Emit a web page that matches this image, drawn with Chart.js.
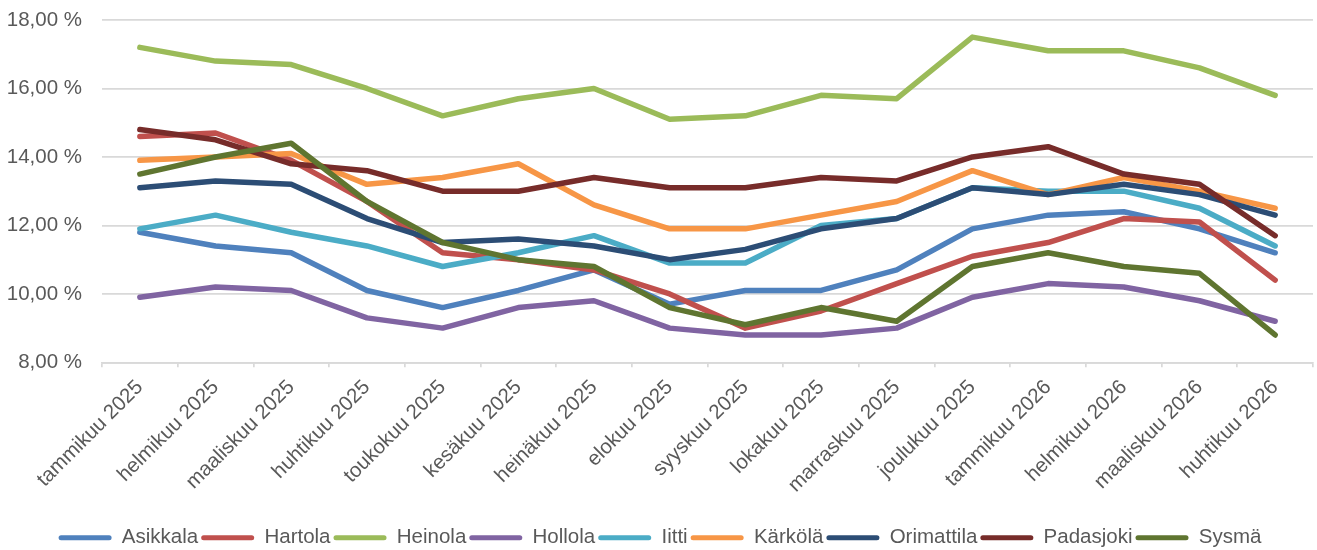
<!DOCTYPE html>
<html>
<head>
<meta charset="utf-8">
<script src="https://cdn.jsdelivr.net/npm/chart.js@4/dist/chart.umd.min.js"></script>
<style>
  html, body { margin: 0; padding: 0; background: #fff; }
  #wrap { width: 1317px; height: 550px; }
</style>
</head>
<body>
<div id="wrap"><canvas id="grafica"></canvas></div>
<script>
// kuukaudet (x-akseli)
const kuukaudet = ['tammikuu 2025', 'helmikuu 2025', 'maaliskuu 2025', 'huhtikuu 2025',
  'toukokuu 2025', 'kesäkuu 2025', 'heinäkuu 2025', 'elokuu 2025', 'syyskuu 2025',
  'lokakuu 2025', 'marraskuu 2025', 'joulukuu 2025', 'tammikuu 2026', 'helmikuu 2026',
  'maaliskuu 2026', 'huhtikuu 2026'];

// arvot prosentteina
const asikkala   = [11.8, 11.4, 11.2, 10.1, 9.6, 10.1, 10.7, 9.7, 10.1, 10.1, 10.7, 11.9, 12.3, 12.4, 11.9, 11.2];
const hartola    = [14.6, 14.7, 13.9, 12.7, 11.2, 11.0, 10.7, 10.0, 9.0, 9.5, 10.3, 11.1, 11.5, 12.2, 12.1, 10.4];
const heinola    = [17.2, 16.8, 16.7, 16.0, 15.2, 15.7, 16.0, 15.1, 15.2, 15.8, 15.7, 17.5, 17.1, 17.1, 16.6, 15.8];
const hollola    = [9.9, 10.2, 10.1, 9.3, 9.0, 9.6, 9.8, 9.0, 8.8, 8.8, 9.0, 9.9, 10.3, 10.2, 9.8, 9.2];
const iitti      = [11.9, 12.3, 11.8, 11.4, 10.8, 11.2, 11.7, 10.9, 10.9, 12.0, 12.2, 13.1, 13.0, 13.0, 12.5, 11.4];
const karkola    = [13.9, 14.0, 14.1, 13.2, 13.4, 13.8, 12.6, 11.9, 11.9, 12.3, 12.7, 13.6, 12.9, 13.4, 13.0, 12.5];
const orimattila = [13.1, 13.3, 13.2, 12.2, 11.5, 11.6, 11.4, 11.0, 11.3, 11.9, 12.2, 13.1, 12.9, 13.2, 12.9, 12.3];
const padasjoki  = [14.8, 14.5, 13.8, 13.6, 13.0, 13.0, 13.4, 13.1, 13.1, 13.4, 13.3, 14.0, 14.3, 13.5, 13.2, 11.7];
const sysma      = [13.5, 14.0, 14.4, 12.7, 11.5, 11.0, 10.8, 9.6, 9.1, 9.6, 9.2, 10.8, 11.2, 10.8, 10.6, 8.8];

const kunnat = ['Asikkala', 'Hartola', 'Heinola', 'Hollola', 'Iitti', 'Kärkölä', 'Orimattila', 'Padasjoki', 'Sysmä'];
const sarjat = [asikkala, hartola, heinola, hollola, iitti, karkola, orimattila, padasjoki, sysma];
const varit = ['#4F81BD', '#C0504D', '#9BBB59', '#8064A2', '#4BACC6', '#F79646', '#2C4D75', '#772C2A', '#5F7530'];

const fontti = "'Liberation Sans', Arial, sans-serif";
const koko = 20.5;
const harmaa = '#595959';

// viimeinen sarja piirretään päällimmäiseksi kuten Excelissä
const datasets = kunnat.map((nimi, i) => ({
  label: nimi,
  data: sarjat[i],
  borderColor: varit[i],
  backgroundColor: varit[i],
  borderWidth: 5.5,
  pointRadius: 0,
  tension: 0,
  borderCapStyle: 'round',
  borderJoinStyle: 'round',
  order: kunnat.length - i
}));

const ctx = document.getElementById('grafica').getContext('2d');
const grafica = new Chart(ctx, {
  type: 'line',
  data: { labels: kuukaudet, datasets: datasets },
  options: {
    responsive: true,
    maintainAspectRatio: false,
    animation: false,
    layout: { padding: { top: 20, right: 4, left: 7, bottom: -8 } },
    plugins: {
      tooltip: { enabled: false },
      legend: {
        position: 'bottom',
        labels: {
          font: { family: fontti, size: koko },
          color: harmaa,
          boxWidth: 53,
          boxHeight: 5,
          padding: 3,
          useBorderRadius: true,
          borderRadius: 2.5,
          sort: (a, b) => a.datasetIndex - b.datasetIndex,
          generateLabels: (chart) => {
            const items = Chart.defaults.plugins.legend.labels.generateLabels(chart);
            items.forEach(it => { it.lineWidth = 0; it.fillStyle = varit[it.datasetIndex]; });
            return items;
          }
        }
      }
    },
    scales: {
      x: {
        offset: true,
        // kallistetut otsikot saavat mennä reunan yli, ja tilaa lisää legendan yläpuolelle
        afterFit: (scale) => {
          scale.paddingLeft = 0;
          scale.paddingRight = 0;
          scale.height += 19;
        },
        grid: {
          offset: true,
          drawOnChartArea: false,
          drawTicks: true,
          tickLength: 5,
          color: '#d9d9d9',
          lineWidth: 1.7
        },
        border: { color: '#d9d9d9', width: 1.7 },
        ticks: {
          font: { family: fontti, size: koko },
          color: harmaa,
          minRotation: 45,
          maxRotation: 45,
          padding: 8
        }
      },
      y: {
        min: 8,
        max: 18,
        // Chart.js varaa tickin paddingin kahdesti, leveys käsin
        afterFit: (scale) => {
          scale.width = 95;
          scale.paddingTop = 0;
        },
        grid: { color: '#d9d9d9', lineWidth: 1.7, drawTicks: false },
        border: { display: false },
        ticks: {
          stepSize: 2,
          font: { family: fontti, size: koko },
          color: harmaa,
          padding: 20,
          callback: v => v.toFixed(2).replace('.', ',') + ' %'
        }
      }
    }
  }
});
</script>
</body>
</html>
